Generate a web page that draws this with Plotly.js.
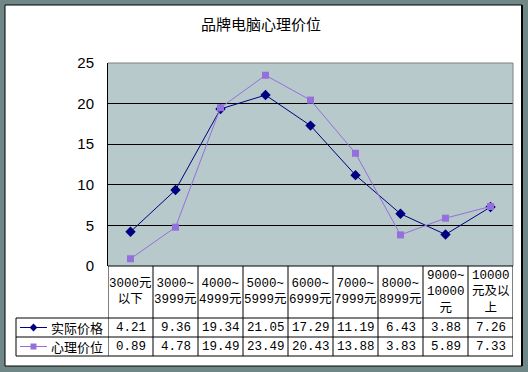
<!DOCTYPE html>
<html><head><meta charset="utf-8">
<script src="https://cdn.plot.ly/plotly-3.0.1.min.js"></script>
<style>html,body{margin:0;padding:0;background:#fff}</style>
</head><body>
<div id="chart" style="width:528px;height:372px"></div>
<script>
// ---- data ----
const chartTitle = '品牌电脑心理价位';
const categories = ['3000元<br>以下','3000~<br>3999元','4000~<br>4999元','5000~<br>5999元','6000~<br>6999元','7000~<br>7999元','8000~<br>8999元','9000~<br>10000<br>元','10000<br>元及以<br>上'];
const seriesNames = ['实际价格','心理价位'];
const actualPrice = [4.21, 9.36, 19.34, 21.05, 17.29, 11.19, 6.43, 3.88, 7.26];
const psychPrice  = [0.89, 4.78, 19.49, 23.49, 20.43, 13.88, 3.83, 5.89, 7.33];
const yTicks = [0, 5, 10, 15, 20, 25];

// ---- layout helpers (pixel geometry) ----
const W = 528, H = 372;
const PL = 108, PR = 513, PT = 63, PB = 266;
const ROW_HDR = 318, ROW1 = 337, ROW2 = 356;
const LEG_L = 16;
const fx = x => x / W, fy = y => 1 - y / H;

const colors = ['#000080', '#9470dc'];
const symbols = ['diamond', 'square'];
const sizes = [8, 7];
const keySizes = [6, 6];
const seriesData = [actualPrice, psychPrice];

const traces = seriesData.map((vals, i) => ({
  type: 'scatter', mode: 'lines+markers', name: seriesNames[i],
  x: categories, y: vals, xaxis: 'x', yaxis: 'y',
  line: {color: colors[i], width: 1},
  marker: {symbol: symbols[i], size: sizes[i], color: colors[i], line: {width: 0}},
  hoverinfo: 'skip', showlegend: false
}));

// legend keys inside the data table (pixel overlay axis)
const rowCenters = [(ROW_HDR + ROW1) / 2, (ROW1 + ROW2) / 2];
seriesNames.forEach((n, i) => {
  traces.push({
    type: 'scatter', mode: 'lines', x: [20, 47], y: [rowCenters[i], rowCenters[i]],
    xaxis: 'x2', yaxis: 'y2', line: {color: colors[i], width: 1},
    hoverinfo: 'skip', showlegend: false
  });
  traces.push({
    type: 'scatter', mode: 'markers', x: [33.5], y: [rowCenters[i]],
    xaxis: 'x2', yaxis: 'y2',
    marker: {symbol: symbols[i], size: keySizes[i], color: colors[i], line: {width: 0}},
    hoverinfo: 'skip', showlegend: false
  });
});

const shapes = [];
const line = (x0, y0, x1, y1, c, w) => shapes.push({type: 'line', xref: 'paper', yref: 'paper',
  x0: fx(x0), y0: fy(y0), x1: fx(x1), y1: fy(y1), line: {color: c || '#000', width: w || 1}});
// frame
const frameCol = '#6f8787';
[[0,0,W,5],[0,366,W,H],[0,0,5,H],[522,0,W,H]].forEach(r => shapes.push({type:'rect', xref:'paper', yref:'paper',
  x0: fx(r[0]), x1: fx(r[2]), y0: fy(r[1]), y1: fy(r[3]), fillcolor: frameCol, line: {width: 0}}));
shapes.push({type:'rect', xref:'paper', yref:'paper', x0: fx(5), x1: fx(522), y0: fy(5), y1: fy(366),
  line: {color: '#000', width: 1}, fillcolor: 'rgba(0,0,0,0)'});
line(522, 5, 522, 366, '#000', 2);
// plot background
shapes.push({type:'rect', xref:'x domain', yref:'y domain', x0:0, x1:1, y0:0, y1:1, layer:'below',
  fillcolor:'#b7c9cb', line:{width:0}});
// plot border top/right (gray)
shapes.push({type:'line', xref:'x domain', yref:'y domain', x0:0, x1:1, y0:1, y1:1, line:{color:'#808080', width:1}});
shapes.push({type:'line', xref:'x domain', yref:'y domain', x0:1, x1:1, y0:0, y1:1, line:{color:'#808080', width:1}});
// table horizontal lines
line(PL, PB, PR, PB);
line(LEG_L, ROW_HDR, PR, ROW_HDR);
line(LEG_L, ROW1, PR, ROW1);
line(LEG_L, ROW2, PR, ROW2);
line(LEG_L, ROW_HDR, LEG_L, ROW2);
// column separators via x scale
for (let i = 0; i <= categories.length; i++) {
  shapes.push({type:'line', xref:'x', yref:'paper', x0: i - 0.5, x1: i - 0.5, y0: fy(PB), y1: fy(ROW2),
    line:{color:'#000', width:1}});
}

const annotations = [];
annotations.push({text: chartTitle, xref:'paper', yref:'paper', x: fx(261), y: fy(24), showarrow:false,
  font:{family:'Noto Sans CJK SC', size:15, color:'#000'}, xanchor:'center', yanchor:'middle'});
const monoFont = {family:'Liberation Mono, Noto Sans CJK SC', size:12.5, color:'#000'};
categories.forEach((c, i) => {
  annotations.push({text: c, xref:'x', yref:'paper', x: i, y: fy(292), showarrow:false,
    font: monoFont, xanchor:'center', yanchor:'middle', align:'center'});
  seriesData.forEach((vals, s) => {
    annotations.push({text: vals[i].toFixed(2), xref:'x', yref:'paper', x: i, y: fy(rowCenters[s]),
      showarrow:false, font: monoFont, xanchor:'center', yanchor:'middle'});
  });
});
seriesNames.forEach((n, s) => {
  annotations.push({text: n, xref:'paper', yref:'paper', x: fx(49), y: fy(rowCenters[s]), showarrow:false,
    font:{family:'Noto Sans CJK SC', size:13, color:'#000'}, xanchor:'left', yanchor:'middle'});
});

const layout = {
  width: W, height: H, margin: {l:0, r:0, t:0, b:0},
  paper_bgcolor: '#ffffff', plot_bgcolor: 'rgba(0,0,0,0)',
  showlegend: false,
  xaxis: {domain: [fx(PL), fx(PR)], type:'category', range:[-0.5, categories.length - 0.5],
    showticklabels:false, showgrid:false, zeroline:false, showline:false, ticks:'', fixedrange:true},
  yaxis: {domain: [fy(PB), fy(PT)], range:[0,25], tickvals: yTicks, showgrid:true, gridcolor:'#000', gridwidth:1,
    zeroline:false, showline:true, linecolor:'#000', linewidth:1, ticks:'', ticklabelstandoff: 10,
    tickfont:{family:'Liberation Sans', size:15, color:'#000'}, fixedrange:true},
  xaxis2: {domain:[0,1], range:[0,W], anchor:'y2', visible:false, fixedrange:true},
  yaxis2: {domain:[0,1], range:[H,0], anchor:'x2', visible:false, fixedrange:true},
  shapes, annotations
};
Plotly.newPlot('chart', traces, layout, {staticPlot:true, displayModeBar:false});
</script>
</body></html>
